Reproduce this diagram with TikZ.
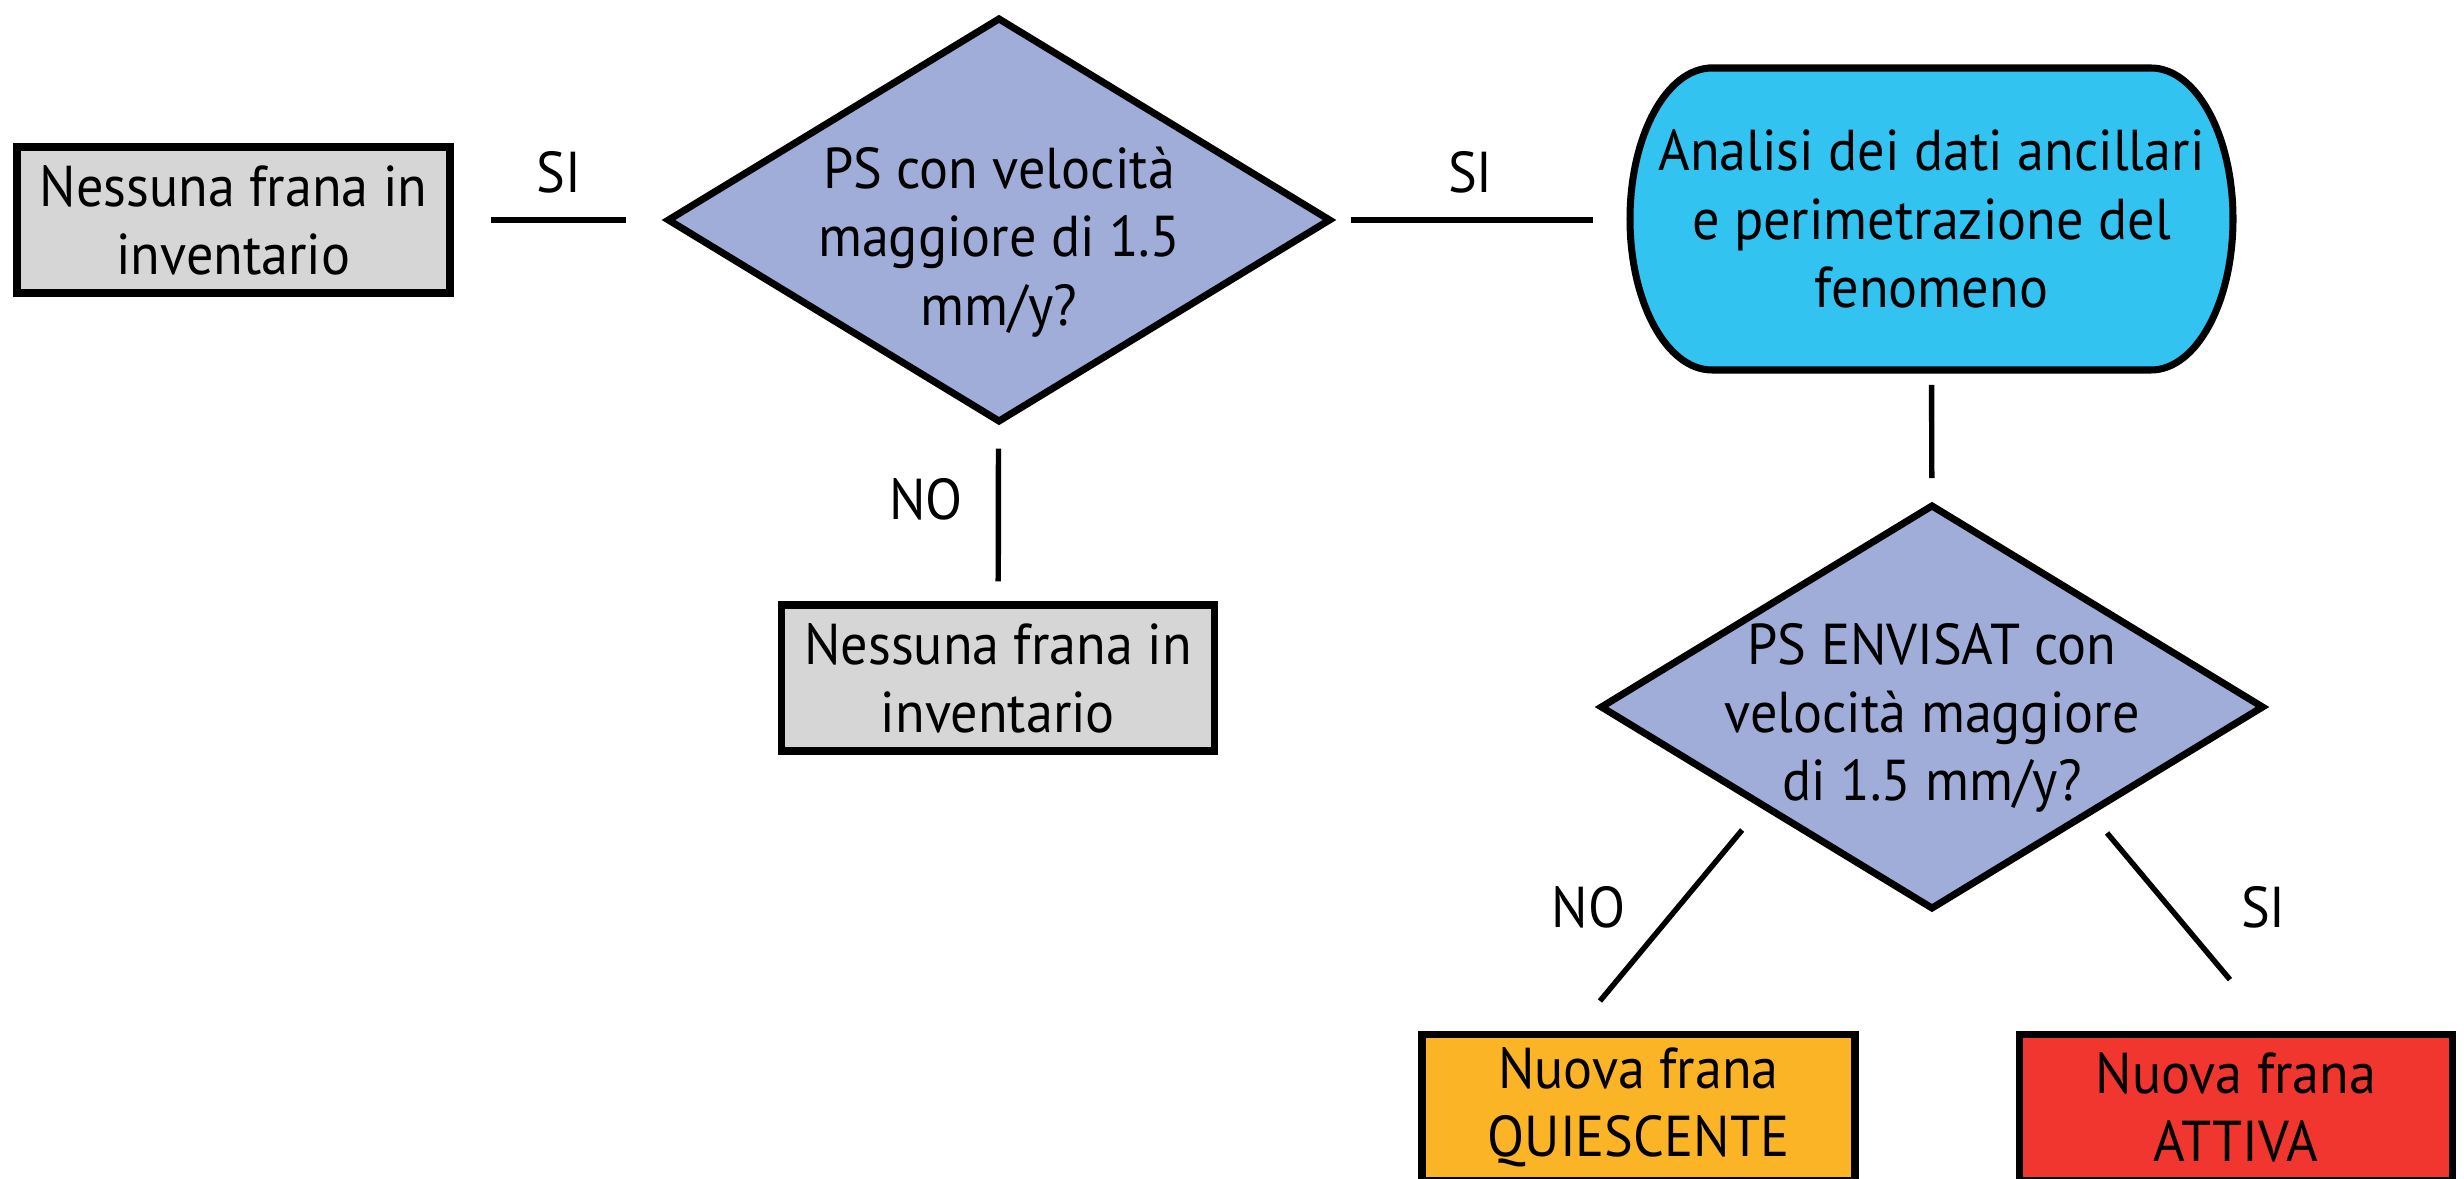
\documentclass[tikz,border=0pt]{standalone}
\usepackage{fontspec}
\setmainfont[FakeStretch=0.94]{PT Sans}
\usetikzlibrary{shapes.geometric,backgrounds}
\definecolor{boxgray}{RGB}{214,214,214}
\definecolor{querycol}{RGB}{159,173,216}
\definecolor{analisicol}{RGB}{51,195,240}
\definecolor{quiescol}{RGB}{250,180,38}
\definecolor{attivacol}{RGB}{241,53,47}
\tikzset{
  every node/.style={font=\fontsize{16.4}{19.4}\selectfont},
  esito/.style={draw, line width=2pt, rectangle, minimum width=4.33cm, minimum height=1.46cm, inner sep=0pt, align=center},
  domanda/.style={draw, line width=2pt, diamond, fill=querycol, minimum width=6.64cm, minimum height=4.05cm, inner sep=0pt},
  testo/.style={align=center, inner sep=0pt, outer sep=0pt},
  risposta/.style={inner sep=0pt},
  link/.style={line width=1.55pt},
}
\begin{document}
\begin{tikzpicture}
\useasboundingbox (0,0) rectangle (24.64,-11.79);
\clip (0,0) rectangle (24.64,-11.79);
% boxes and questions
\node[esito, fill=boxgray] (nb1) at (2.335,-2.20) {Nessuna frana in\\inventario};
\node[domanda] (d1) at (9.99,-2.20) {};
\node[testo] (d1t) at ([yshift=-0.22cm]d1.center) {PS con velocità\\maggiore di 1.5\\mm/y?};
\node[esito, fill=boxgray] (nb2) at (9.98,-6.78) {Nessuna frana in\\inventario};
\node[testo, minimum width=6.03cm, minimum height=3.02cm] (an) at (19.315,-2.19) {Analisi dei dati ancillari\\e perimetrazione del\\fenomeno};
\begin{scope}[on background layer]
\draw[line width=2pt, fill=analisicol] ([xshift=0.82cm]an.north west) -- ([xshift=-0.82cm]an.north east)
  arc[start angle=90, end angle=-90, x radius=0.82cm, y radius=1.51cm]
  -- ([xshift=0.82cm]an.south west)
  arc[start angle=270, end angle=90, x radius=0.82cm, y radius=1.51cm] -- cycle;
\end{scope}
\node[domanda] (d2) at (19.32,-7.07) {};
\node[testo] (d2t) at ([yshift=-0.11cm]d2.center) {PS ENVISAT con\\velocità maggiore\\di 1.5 mm/y?};
\node[esito, fill=quiescol] (nq) at (16.385,-11.075) {Nuova frana\\QUIESCENTE};
\node[esito, fill=attivacol] (nr) at (22.36,-11.075) {Nuova frana\\ATTIVA};
% connectors
\draw[link, shorten <=0.37cm, shorten >=0.37cm] (nb1) -- (d1) node[risposta, midway, above=0.24cm] (si1) {SI};
\draw[link, shorten <=0.16cm, shorten >=0.37cm] (d1) -- (d1 -| an.west) node[risposta, pos=0.46, above=0.24cm] (si2) {SI};
\draw[link, shorten <=0.23cm, shorten >=0.20cm] (d1) -- (nb2) node[risposta, pos=0.42, left=0.33cm] (no1) {NO};
\draw[link, shorten <=0.15cm, shorten >=0.23cm] (an) -- (d2);
\draw[link, shorten <=0.26cm, shorten >=0.39cm] ([xshift=-0.055cm]d2.south west) -- ([xshift=-0.635cm]nq.north) node[risposta, pos=0.44, left=0.5cm] (no2) {NO};
\draw[link, shorten <=0.30cm, shorten >=0.67cm] ([xshift=-0.12cm]d2.south east) -- ([xshift=0.37cm]nr.north) node[risposta, pos=0.44, right=0.69cm] (si3) {SI};
\end{tikzpicture}
\end{document}
